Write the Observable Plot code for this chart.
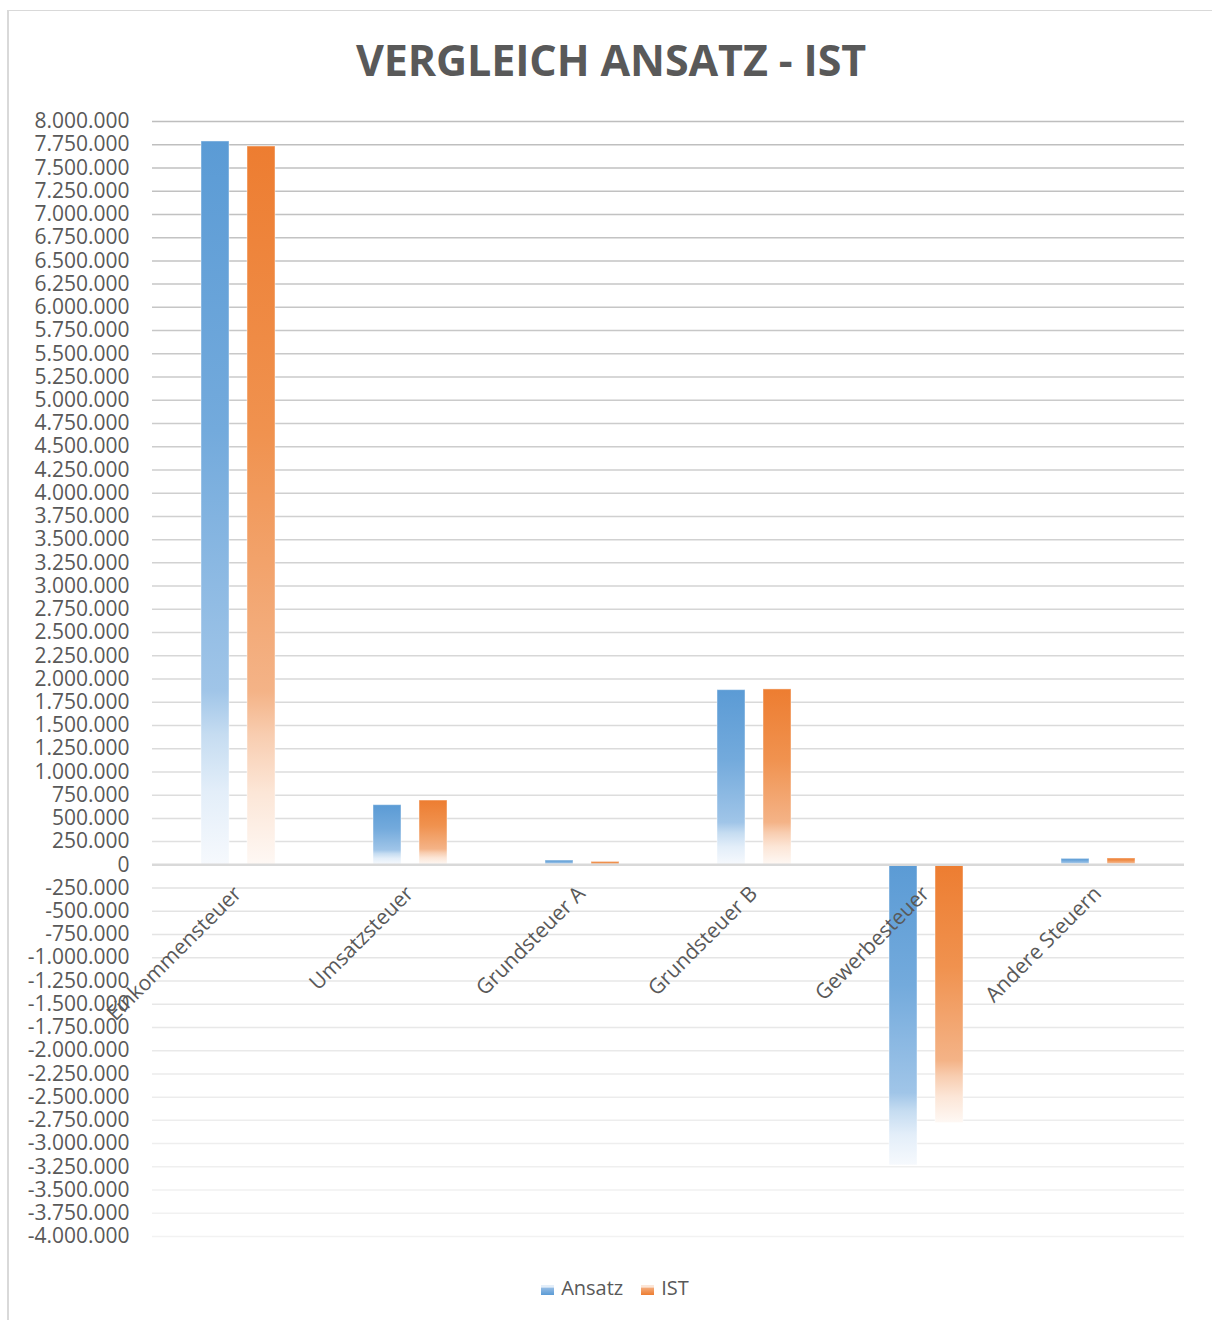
<!DOCTYPE html>
<html>
<head>
<meta charset="utf-8">
<script src="https://cdn.jsdelivr.net/npm/d3@7"></script>
<script src="https://cdn.jsdelivr.net/npm/@observablehq/plot@0.6"></script>
<style>
  body { margin: 0; background: #fff; width: 1212px; height: 1320px; overflow: hidden; position: relative; font-family: "Open Sans", sans-serif; }
  #frame { position: absolute; left: 7px; top: 10px; width: 1230px; height: 1340px; border-left: 2px solid #d9d9d9; border-top: 1px solid #d9d9d9; }
  #title { position: absolute; left: 0; top: 30px; width: 1222px; text-align: center; font-weight: 700; font-size: 43px; color: #595959; letter-spacing: -0.1px; }
  #chart { position: absolute; left: 0; top: 0; }
  #legend { position: absolute; left: 0; top: 1274px; width: 1230px; display: flex; justify-content: center; align-items: center; font-size: 20px; color: #595959; }
  .sw { display: inline-block; width: 13px; height: 10px; margin-right: 7px; margin-top: 4px; }
  .item { display: flex; align-items: center; margin: 0 9px; }
</style>
</head>
<body>
<div id="frame"></div>
<div id="title">VERGLEICH ANSATZ - IST</div>
<div id="chart"></div>
<div id="legend">
  <span class="item"><span class="sw" style="background: linear-gradient(to bottom, #e3eef9 0%, #e3eef9 20%, #8fb9e3 35%, #5b9bd5 100%)"></span>Ansatz</span>
  <span class="item"><span class="sw" style="background: linear-gradient(to bottom, #fce6d7 0%, #fce6d7 20%, #f3a673 35%, #ed7d31 100%)"></span>IST</span>
</div>
<script>
// ---- data ----
const categories = ["Einkommensteuer", "Umsatzsteuer", "Grundsteuer A", "Grundsteuer B", "Gewerbesteuer", "Andere Steuern"];
const series = ["Ansatz", "IST"];
const ansatz = [7785000, 642000, 46000, 1880000, -3235000, 64000];
const ist = [7731000, 692000, 31000, 1888000, -2779000, 68000];
const yTicks = d3.range(-4000000, 8000001, 250000);

const rows = [];
categories.forEach((c, i) => {
  rows.push({category: c, series: "Ansatz", value: ansatz[i]});
  rows.push({category: c, series: "IST", value: ist[i]});
});

const de = d3.formatLocale({decimal: ",", thousands: ".", grouping: [3], currency: ["", " €"], minus: "-"});
const fmt = de.format(",.0f");

const opacityFor = v => 0.15 + 0.6 * (v + 4000000) / 12000000;

const chart = Plot.plot({
  width: 1212,
  height: 1260,
  marginLeft: 150,
  marginRight: 27,
  marginTop: 121,
  marginBottom: 24,
  style: {fontFamily: "Open Sans", fontSize: "21px", color: "#595959", background: "transparent"},
  fx: {domain: categories, padding: 0, axis: null},
  x: {domain: series, paddingInner: 0.4, paddingOuter: 1.04, axis: null},
  y: {domain: [-4000000, 8000000], axis: null},
  marks: [
    Plot.ruleY(yTicks, {stroke: "#a8a8a8", strokeOpacity: d => opacityFor(d), strokeWidth: 1.5}),
    Plot.axisY(yTicks, {tickSize: 0, tickPadding: 23, tickFormat: fmt, label: null, fontSize: 21}),
    Plot.barY(rows.filter(d => d.series === "Ansatz"), {fx: "category", x: "series", y: "value", fill: "url(#gradA)", stroke: "#ffffff", strokeOpacity: 0.45, strokeWidth: 1}),
    Plot.barY(rows.filter(d => d.series === "IST"), {fx: "category", x: "series", y: "value", fill: "url(#gradI)", stroke: "#ffffff", strokeOpacity: 0.45, strokeWidth: 1}),
    Plot.ruleY([0], {stroke: "#d9d9d9", strokeWidth: 2.5}),
    Plot.text(categories, {fx: d => d, y: 0, text: d => d, rotate: -45, textAnchor: "end", lineAnchor: "bottom", dx: 4, dy: 30, fontSize: 21, fill: "#595959"})
  ]
});

const svg = d3.select(chart);
const defs = svg.insert("defs", ":first-child");
function grad(id, stops) {
  const g = defs.append("linearGradient").attr("id", id).attr("x1", 0).attr("y1", 0).attr("x2", 0).attr("y2", 1);
  stops.forEach(([o, c]) => g.append("stop").attr("offset", o).attr("stop-color", c));
}
grad("gradA", [[0, "#5b9bd5"], [0.4, "#73aadc"], [0.76, "#a0c5e8"], [0.82, "#c5dcf1"], [0.9, "#e3eef9"], [1, "#f6f9fd"]]);
grad("gradI", [[0, "#ed7d31"], [0.4, "#f0924f"], [0.76, "#f4b387"], [0.82, "#f8cdb0"], [0.9, "#fce6d7"], [1, "#fef8f4"]]);

document.getElementById("chart").appendChild(chart);
</script>
</body>
</html>
